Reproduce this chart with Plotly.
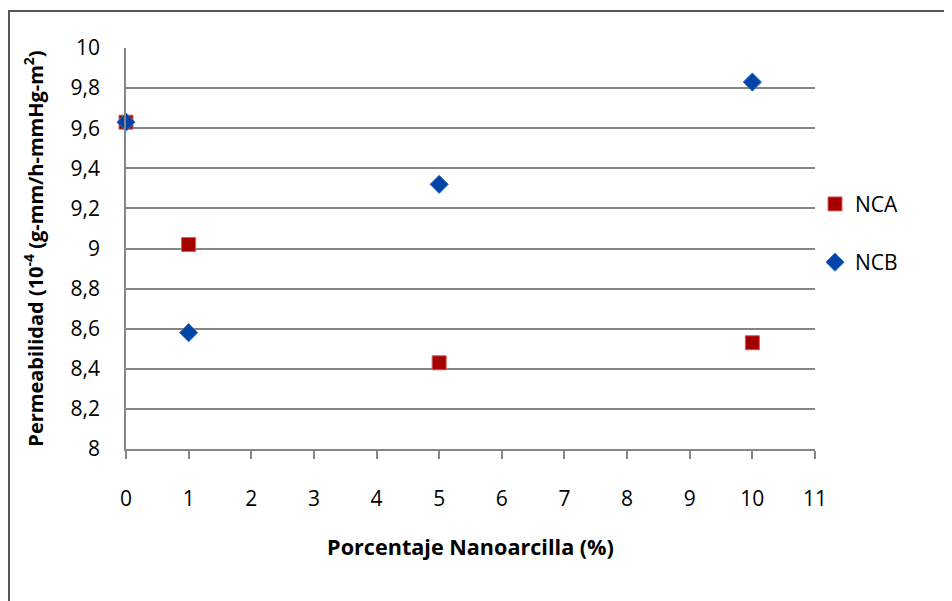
import plotly.graph_objects as go

x_nca = [0, 1, 5, 10]
y_nca = [9.63, 9.02, 8.43, 8.53]
x_ncb = [0, 1, 5, 10]
y_ncb = [9.63, 8.58, 9.32, 9.83]

x_ticks = list(range(0, 12))
y_ticks = [8, 8.2, 8.4, 8.6, 8.8, 9, 9.2, 9.4, 9.6, 9.8, 10]
y_tick_text = ["8", "8,2", "8,4", "8,6", "8,8", "9", "9,2", "9,4", "9,6", "9,8", "10"]

FONT = "'Open Sans', Lato, sans-serif"

W, H = 944, 593
L, T = 118, 40
PW, PH = 689, 401

fig = go.Figure()
fig.add_trace(go.Scatter(
    x=x_nca, y=y_nca, mode="markers", name="NCA", legendgroup="a",
    marker=dict(symbol="square", size=14, color="#A50000",
                line=dict(color="#D06060", width=1)),
    cliponaxis=False,
))
fig.add_trace(go.Scatter(
    x=x_ncb, y=y_ncb, mode="markers", name="NCB", legendgroup="b",
    marker=dict(symbol="diamond", size=14, color="#0044A8",
                line=dict(color="#3A70C8", width=1)),
    cliponaxis=False,
))

fig.update_layout(
    width=W, height=H,
    margin=dict(l=L, r=W - L - PW, t=T, b=H - T - PH, autoexpand=False),
    paper_bgcolor="white", plot_bgcolor="white",
    font=dict(family=FONT, size=21, color="#000"),
    legend=dict(x=1.0, y=0.538, xanchor="left", yanchor="middle",
                font=dict(size=21), tracegroupgap=28, itemwidth=30,
                bgcolor="rgba(0,0,0,0)"),
    showlegend=True,
    shapes=[dict(type="rect", xref="paper", yref="paper",
                 x0=(1 - L) / PW, x1=1.5, y0=-0.6, y1=(T + PH - 3) / PH,
                 line=dict(color="#555555", width=2), layer="below")],
)
fig.update_xaxes(
    range=[0, 11], tickvals=x_ticks, ticktext=[str(v) for v in x_ticks],
    showgrid=False, zeroline=False,
    showline=True, linecolor="#868686", linewidth=1.5,
    ticks="outside", ticklen=8, tickcolor="#868686", tickwidth=1.5,
    ticklabelstandoff=22,
    tickfont=dict(size=21),
    title=dict(text="<b>Porcentaje Nanoarcilla (%)</b>", font=dict(size=21.6), standoff=29),
)
fig.update_yaxes(
    range=[8, 10], tickvals=y_ticks, ticktext=y_tick_text,
    showgrid=True, gridcolor="#868686", gridwidth=1.5, zeroline=False,
    showline=True, linecolor="#868686", linewidth=1.5,
    ticks="", ticklabelstandoff=20,
    tickfont=dict(size=21),
    title=dict(text="<b>Permeabilidad (10<sup>-4</sup> (g-mm/h-mmHg-m<sup>2</sup>)</b>",
               font=dict(size=20), standoff=22),
)

fig.write_html("out.html")
